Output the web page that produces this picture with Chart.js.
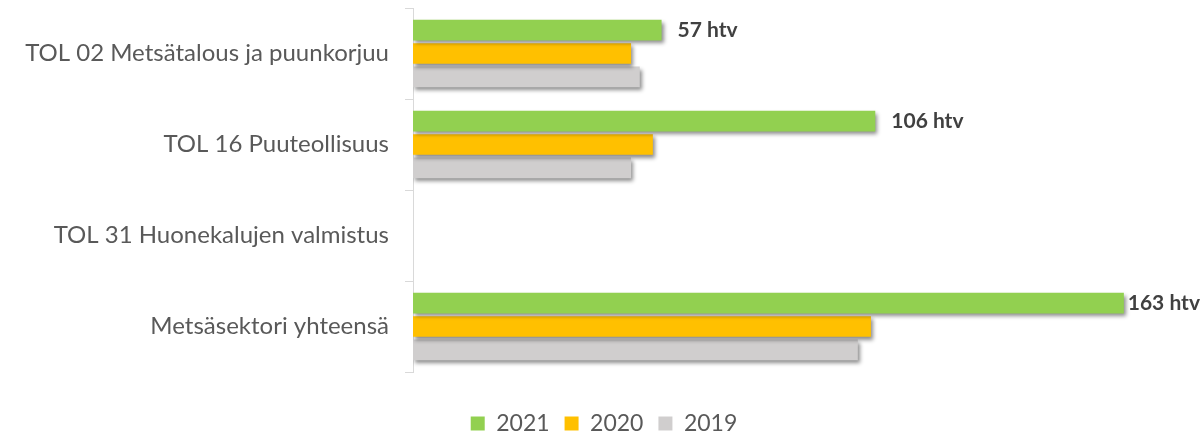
<!DOCTYPE html>
<html>
<head>
<meta charset="utf-8">
<script src="https://cdn.jsdelivr.net/npm/chart.js@4"></script>
<style>
  html, body { margin: 0; padding: 0; background: #ffffff; }
  #wrap { width: 1202px; height: 435px; }
</style>
</head>
<body>
<div id="wrap"><canvas id="c" width="1202" height="435"></canvas></div>
<script>
const categories = [
  'TOL 02 Metsätalous ja puunkorjuu',
  'TOL 16 Puuteollisuus',
  'TOL 31 Huonekalujen valmistus',
  'Metsäsektori yhteensä'
];
const seriesNames = ['2021', '2020', '2019'];
const values2021 = [57, 106, null, 163];
const values2020 = [50, 55, null, 105];
const values2019 = [52, 50, null, 102];
const labelUnit = 'htv';

const colors = ['#92D050', '#FFC000', '#D0CECE'];

const shadowPlugin = {
  id: 'barShadow',
  beforeDatasetsDraw(chart) {
    const ctx = chart.ctx;
    ctx.save();
    ctx.shadowColor = 'rgba(0,0,0,0.45)';
    ctx.shadowBlur = 4;
    ctx.shadowOffsetX = 2;
    ctx.shadowOffsetY = 3;
  },
  afterDatasetsDraw(chart) {
    chart.ctx.restore();
  }
};

const valueLabelPlugin = {
  id: 'valueLabels',
  afterDraw(chart) {
    const ctx = chart.ctx;
    const meta = chart.getDatasetMeta(0);
    const data = chart.data.datasets[0].data;
    ctx.save();
    ctx.font = 'bold 21px Lato';
    ctx.fillStyle = '#404040';
    ctx.textBaseline = 'middle';
    ctx.textAlign = 'left';
    meta.data.forEach((bar, i) => {
      const v = data[i];
      if (v === null || v === undefined) return;
      const text = v + ' ' + labelUnit;
      const w = ctx.measureText(text).width;
      let x = bar.x + 16;
      if (x + w > chart.width - 2) x = chart.width - 2 - w;
      ctx.fillText(text, x, bar.y);
    });
    ctx.restore();
  }
};

new Chart(document.getElementById('c'), {
  type: 'bar',
  data: {
    labels: categories,
    datasets: [
      { label: seriesNames[0], data: values2021, backgroundColor: colors[0] },
      { label: seriesNames[1], data: values2020, backgroundColor: colors[1] },
      { label: seriesNames[2], data: values2019, backgroundColor: colors[2] }
    ]
  },
  options: {
    indexAxis: 'y',
    responsive: false,
    animation: false,
    devicePixelRatio: 1,
    categoryPercentage: 0.77,
    barPercentage: 0.88,
    layout: { padding: { top: 8, left: 10, right: 4, bottom: -10 } },
    scales: {
      x: {
        min: 0,
        max: 180,
        display: true,
        grid: { display: false },
        border: { display: false },
        ticks: { display: false },
        afterFit(s) { s.height = 25; s.paddingLeft = 0; s.paddingRight = 0; }
      },
      y: {
        grid: {
          display: true,
          drawOnChartArea: false,
          offset: true,
          tickLength: 8,
          color: '#d9d9d9'
        },
        border: { display: true, color: '#d9d9d9' },
        ticks: {
          color: '#595959',
          font: { family: 'Lato', size: 24 },
          padding: 16
        },
        afterFit(s) { s.width = 403; s.paddingTop = 0; s.paddingBottom = 0; }
      }
    },
    plugins: {
      legend: {
        position: 'bottom',
        align: 'center',
        labels: {
          boxWidth: 14,
          boxHeight: 14,
          padding: 15,
          color: '#595959',
          font: { family: 'Lato', size: 23 }
        }
      },
      tooltip: { enabled: false }
    }
  },
  plugins: [shadowPlugin, valueLabelPlugin]
});
</script>
</body>
</html>
